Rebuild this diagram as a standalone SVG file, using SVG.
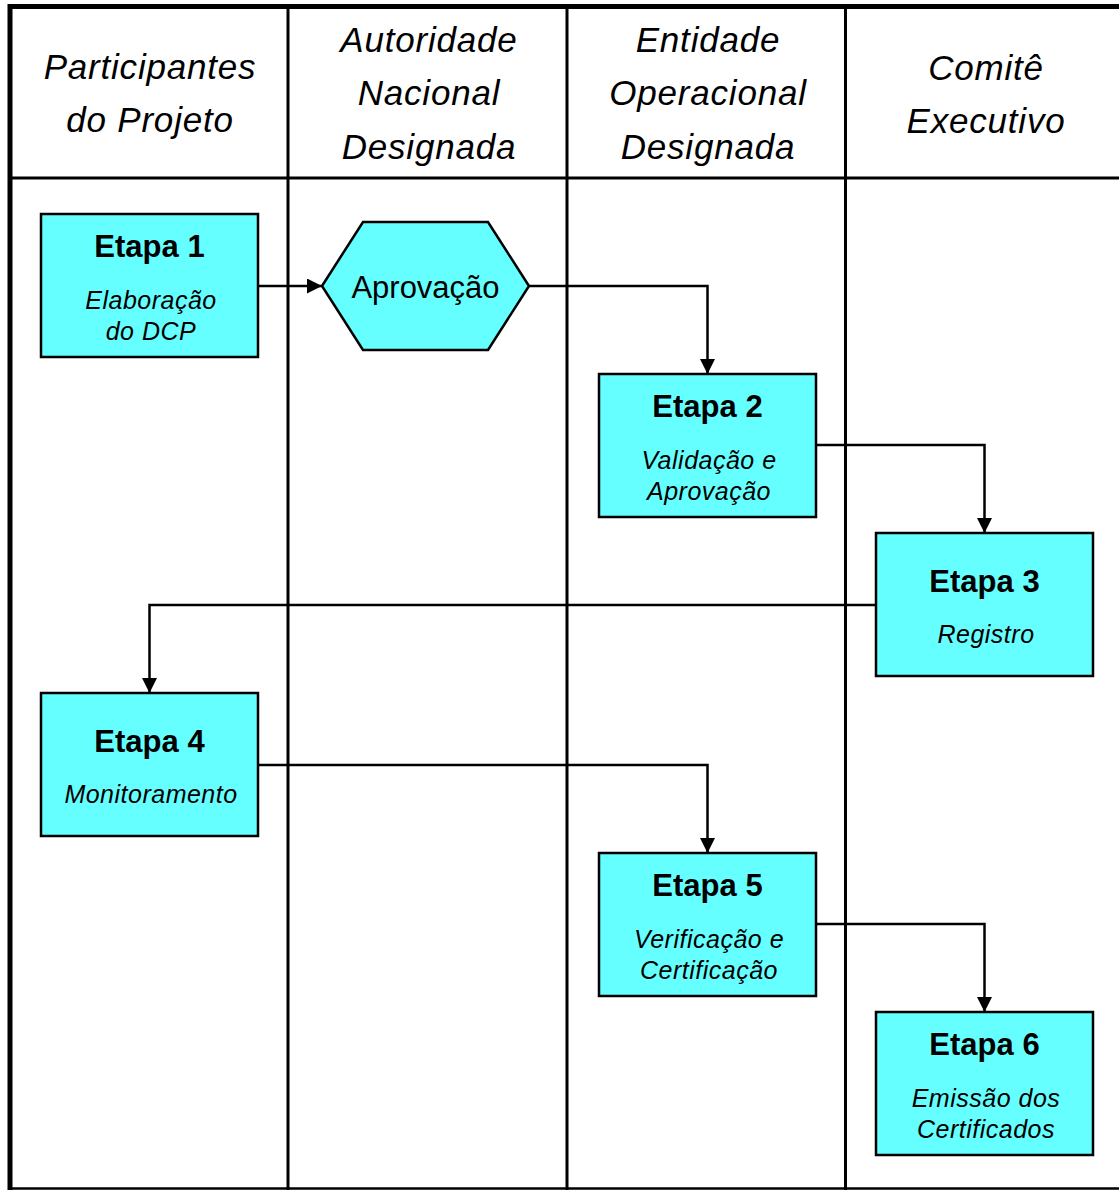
<svg xmlns="http://www.w3.org/2000/svg" width="1119" height="1190" viewBox="0 0 1119 1190">
<style>
.hdr{font-family:"Liberation Sans",Arial,sans-serif;font-style:italic;font-size:35px;letter-spacing:0.8px;text-anchor:middle;fill:#000}
.ttl{font-family:"Liberation Sans",Arial,sans-serif;font-weight:bold;font-size:31px;text-anchor:middle;fill:#000}
.sub{font-family:"Liberation Sans",Arial,sans-serif;font-style:italic;font-size:25px;letter-spacing:0.5px;text-anchor:middle;fill:#000}
.lbl{font-family:"Liberation Sans",Arial,sans-serif;font-size:31px;text-anchor:middle;fill:#000}
.box{fill:#66FFFF;stroke:#000;stroke-width:2.5}
.lane{stroke:#000;stroke-width:3;fill:none}
.conn{stroke:#000;stroke-width:2.5;fill:none;marker-end:url(#arr)}
</style>
<defs>
<marker id="arr" markerUnits="userSpaceOnUse" viewBox="0 0 15 15" refX="15" refY="7.5" markerWidth="15" markerHeight="15" orient="auto">
<path d="M0,0 L15,7.5 L0,15 z" fill="#000"/>
</marker>
</defs>
<rect x="0" y="0" width="1119" height="1190" fill="#fff"/>
<g id="lanes">
<line x1="8" y1="6.5" x2="1119" y2="6.5" stroke="#000" stroke-width="5"/>
<line x1="10" y1="4" x2="10" y2="1190" stroke="#000" stroke-width="5"/>
<line class="lane" x1="10" y1="178" x2="1119" y2="178"/>
<line class="lane" x1="288" y1="8" x2="288" y2="1190"/>
<line class="lane" x1="567" y1="8" x2="567" y2="1190"/>
<line class="lane" x1="845.5" y1="8" x2="845.5" y2="1190"/>
<line x1="10" y1="1188.5" x2="1119" y2="1188.5" stroke="#000" stroke-width="2.5"/>
</g>
<g id="headers">
<text class="hdr" x="150" y="79">Participantes</text>
<text class="hdr" x="150" y="132">do Projeto</text>
<text class="hdr" x="429" y="52">Autoridade</text>
<text class="hdr" x="429" y="105">Nacional</text>
<text class="hdr" x="429" y="159">Designada</text>
<text class="hdr" x="708" y="52">Entidade</text>
<text class="hdr" x="708" y="105">Operacional</text>
<text class="hdr" x="708" y="159">Designada</text>
<text class="hdr" x="986" y="80">Comitê</text>
<text class="hdr" x="986" y="133">Executivo</text>
</g>
<g id="connectors">
<path class="conn" d="M258,286 H322"/>
<path class="conn" d="M529,286 H707.5 V374"/>
<path class="conn" d="M816,445 H984.5 V533"/>
<path class="conn" d="M876,605 H149.5 V693"/>
<path class="conn" d="M258,765 H707.5 V853"/>
<path class="conn" d="M816,924 H984.5 V1012"/>
</g>
<g id="etapa1">
<rect class="box" x="41" y="214" width="217" height="143"/>
<text class="ttl" x="149.5" y="257">Etapa 1</text>
<text class="sub" x="151" y="309">Elaboração</text>
<text class="sub" x="151" y="340">do DCP</text>
</g>
<g id="aprovacao">
<polygon class="box" points="322,286 363,222 488,222 529,286 488,350 363,350"/>
<text class="lbl" x="425.5" y="298">Aprovação</text>
</g>
<g id="etapa2">
<rect class="box" x="599" y="374" width="217" height="143"/>
<text class="ttl" x="707.5" y="417">Etapa 2</text>
<text class="sub" x="709" y="469">Validação e</text>
<text class="sub" x="709" y="500">Aprovação</text>
</g>
<g id="etapa3">
<rect class="box" x="876" y="533" width="217" height="143"/>
<text class="ttl" x="984.5" y="591.5">Etapa 3</text>
<text class="sub" x="986" y="643">Registro</text>
</g>
<g id="etapa4">
<rect class="box" x="41" y="693" width="217" height="143"/>
<text class="ttl" x="149.5" y="751.5">Etapa 4</text>
<text class="sub" x="151" y="803">Monitoramento</text>
</g>
<g id="etapa5">
<rect class="box" x="599" y="853" width="217" height="143"/>
<text class="ttl" x="707.5" y="896">Etapa 5</text>
<text class="sub" x="709" y="948">Verificação e</text>
<text class="sub" x="709" y="979">Certificação</text>
</g>
<g id="etapa6">
<rect class="box" x="876" y="1012" width="217" height="143"/>
<text class="ttl" x="984.5" y="1055">Etapa 6</text>
<text class="sub" x="986" y="1107">Emissão dos</text>
<text class="sub" x="986" y="1138">Certificados</text>
</g>
</svg>
